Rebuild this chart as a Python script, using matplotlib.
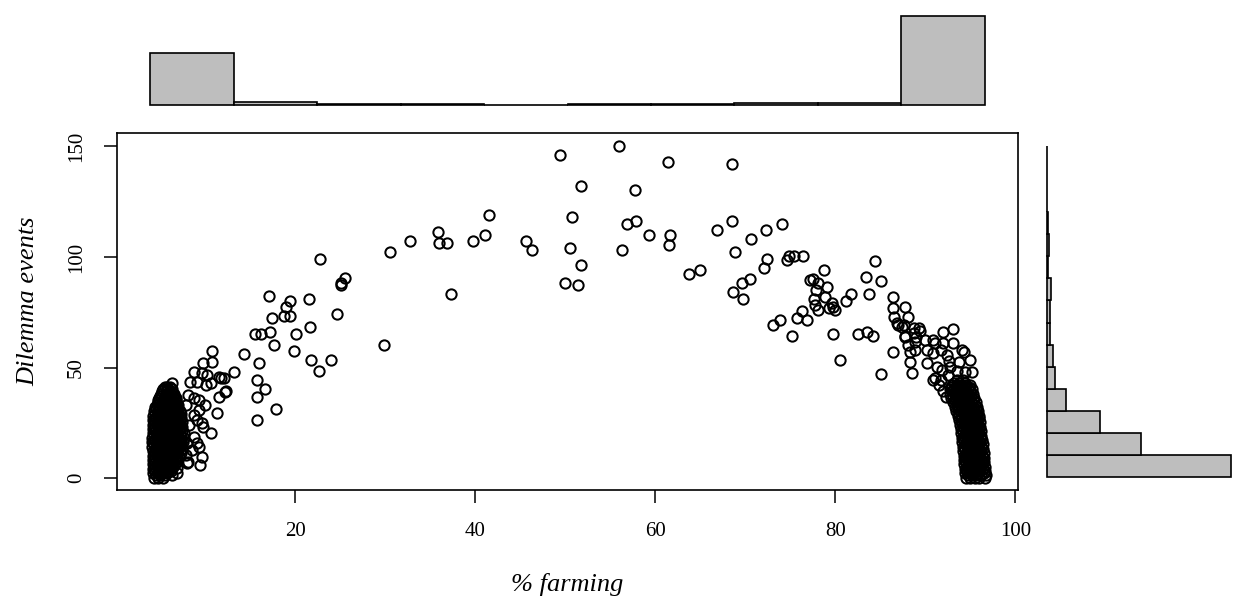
import matplotlib
matplotlib.use("Agg")

import matplotlib.pyplot as plt
import numpy as np

plt.rcParams["font.family"] = ["Liberation Serif", "DejaVu Serif"]

# ---- scattered points ----
rise_x = [35.9, 32.8, 36.0, 36.9, 30.5, 22.7, 25.5, 25.1, 25.1, 37.3, 17.1, 21.5,
          19.4, 19.0, 18.7, 19.4, 17.4, 24.6, 21.6, 15.5, 16.2, 17.2, 20.1, 17.6,
          29.9, 19.9, 14.3, 16.0, 21.7, 24.0, 22.6, 15.7, 16.6, 15.8, 15.7, 17.9]
rise_y = [111.3, 107.4, 106.2, 106.2, 102.1, 99.2, 90.4, 88.4, 87.3, 83.3, 82.4, 81.1,
          80.1, 77.2, 73.3, 73.3, 72.3, 74.3, 68.2, 65.3, 65.3, 66.2, 65.2, 60.2,
          60.2, 57.3, 56.2, 52.2, 53.4, 53.4, 48.3, 44.3, 40.3, 36.8, 26.2, 31.2]

fringe_x = [10.7, 10.8, 9.8, 13.2, 8.7, 9.6, 10.2, 11.5, 12.1, 8.3, 9.1, 10.6,
            10.1, 12.2, 11.5, 6.3, 5.7, 8.1, 8.7, 9.3, 10.0, 11.3, 9.3, 8.7,
            9.1, 9.6, 9.8, 10.6, 8.7, 9.1, 9.3, 8.5, 9.6, 9.4, 8.1, 6.9,
            8.0, 12.3, 11.7, 7.9, 8.2, 8.0, 7.9, 6.9, 6.3]
fringe_y = [57.6, 52.6, 51.9, 48.1, 48.1, 47.4, 46.6, 45.8, 45.1, 43.6, 43.6, 42.8,
            42.1, 39.0, 36.8, 42.8, 41.3, 37.6, 36.1, 35.3, 33.0, 29.6, 30.8, 28.5,
            26.2, 24.7, 23.2, 20.2, 18.7, 15.7, 14.2, 12.7, 9.6, 5.9, 7.4, 2.1,
            6.6, 39.5, 45.1, 33.0, 24.0, 16.0, 10.5, 4.5, 1.2]

peak_x = [49.4, 56.0, 61.4, 68.5, 51.7, 57.7, 41.5, 50.8, 56.9, 57.9, 59.3, 61.6,
          61.5, 66.9, 39.7, 41.1, 45.6, 46.3, 50.5, 56.3, 51.7, 50.0, 51.4, 63.7, 65.0]
peak_y = [146.2, 150.2, 143.1, 142.3, 132.1, 130.2, 119.1, 118.2, 115.1, 116.1, 110.1, 110.1,
          105.3, 112.2, 107.2, 110.1, 107.4, 103.2, 104.1, 103.2, 96.2, 88.1, 87.2, 92.2, 94.1]

fall_x = [68.5, 72.3, 74.1, 70.6, 68.9, 72.4, 72.1, 74.6, 74.9, 75.4, 76.4, 70.5,
          69.6, 68.6, 69.7, 77.2, 77.5, 78.7, 78.1, 79.1, 77.9, 77.6, 77.8, 78.1,
          78.9, 79.6, 80.0, 79.3, 79.8, 81.2, 81.7, 76.3, 75.7, 76.9, 73.9, 73.1,
          75.2, 79.7, 80.5, 84.4, 83.4, 85.1, 83.7, 82.5, 83.5, 84.2, 85.1]
fall_y = [116.4, 112.2, 114.9, 108.1, 102.1, 99.1, 95.2, 98.6, 100.5, 100.5, 100.5, 90.2,
          88.1, 84.3, 81.1, 89.6, 90.2, 94.1, 88.1, 86.6, 85.1, 81.0, 78.3, 76.0,
          82.0, 79.0, 76.0, 76.8, 77.2, 80.2, 83.3, 75.4, 72.3, 71.5, 71.5, 69.2,
          64.1, 65.2, 53.3, 98.1, 91.1, 89.1, 83.3, 65.2, 66.2, 64.1, 47.1]

shoulder_x = [86.4, 86.4, 86.5, 86.9, 87.4, 87.8, 88.1, 86.4, 87.7, 88.7, 89.3, 89.4,
              88.7, 89.0, 88.1, 88.9, 88.3, 88.9, 88.3, 88.5, 87.6, 90.2, 90.2, 90.0,
              90.9, 91.1, 92.0, 93.1, 92.0, 93.1, 94.1, 90.9, 91.7, 92.4, 91.1, 90.9,
              91.9, 92.8, 91.3, 95.0, 94.3, 94.4, 95.2, 91.5, 92.0, 92.3, 91.8, 92.5,
              93.5, 93.8, 92.6, 87.8, 87.0]
shoulder_y = [82.0, 77.1, 73.0, 70.0, 68.5, 77.2, 73.0, 57.2, 64.3, 67.7, 67.7, 66.7,
              65.5, 63.9, 60.2, 61.7, 57.2, 57.9, 52.6, 47.4, 69.2, 57.9, 51.9, 62.4,
              62.4, 60.9, 66.2, 67.3, 60.9, 60.9, 57.9, 56.4, 57.9, 55.7, 45.1, 44.3,
              48.9, 50.4, 50.4, 53.4, 57.2, 48.1, 48.1, 42.0, 39.5, 36.5, 44.5, 46.5,
              48.5, 52.5, 53.0, 63.9, 69.2]

# dense clusters: y level of each row and the x values on that row
left_rows_y = [0.2, 1.2, 2.2, 3.2, 4.2, 5.2, 6.2, 7.2, 8.2, 9.2, 10.2, 11.2, 12.2,
               13.2, 14.2, 15.2, 16.2, 17.2, 18.2, 19.2, 20.2, 21.2, 22.2, 23.2,
               24.2, 25.2, 26.2, 27.2, 28.2, 29.2, 30.2, 31.2, 32.2, 33.2, 34.2,
               35.2, 36.2, 37.2, 38.2, 39.2, 40.2, 41.2]
left_rows_x = [
    [4.3, 4.8, 5.3],
    [4.5, 5.0, 5.5],
    [4.2, 4.7, 5.2, 5.7],
    [4.4, 4.9, 5.4, 5.9, 6.2],
    [4.2, 4.7, 5.2, 5.7, 6.2],
    [4.4, 4.9, 5.4, 5.9, 6.4],
    [4.2, 4.7, 5.2, 5.7, 6.2, 6.6],
    [4.4, 4.9, 5.4, 5.9, 6.4, 6.8],
    [4.2, 4.7, 5.2, 5.7, 6.2, 6.7],
    [4.4, 4.9, 5.4, 5.9, 6.4, 6.9],
    [4.2, 4.7, 5.2, 5.7, 6.2, 6.7, 7.1],
    [4.4, 4.9, 5.4, 5.9, 6.4, 6.9, 7.3],
    [4.2, 4.7, 5.2, 5.7, 6.2, 6.7, 7.2],
    [4.4, 4.9, 5.4, 5.9, 6.4, 6.9, 7.4],
    [4.1, 4.6, 5.1, 5.6, 6.1, 6.6, 7.1],
    [4.3, 4.8, 5.3, 5.8, 6.3, 6.8, 7.3],
    [4.1, 4.6, 5.1, 5.6, 6.1, 6.6, 7.1, 7.5],
    [4.3, 4.8, 5.3, 5.8, 6.3, 6.8, 7.3],
    [4.1, 4.6, 5.1, 5.6, 6.1, 6.6, 7.1, 7.6],
    [4.3, 4.8, 5.3, 5.8, 6.3, 6.8, 7.3],
    [4.2, 4.7, 5.2, 5.7, 6.2, 6.7, 7.2, 7.6],
    [4.4, 4.9, 5.4, 5.9, 6.4, 6.9, 7.4],
    [4.2, 4.7, 5.2, 5.7, 6.2, 6.7, 7.2],
    [4.4, 4.9, 5.4, 5.9, 6.4, 6.9, 7.4],
    [4.2, 4.7, 5.2, 5.7, 6.2, 6.7, 7.2],
    [4.4, 4.9, 5.4, 5.9, 6.4, 6.9, 7.4],
    [4.2, 4.7, 5.2, 5.7, 6.2, 6.7, 7.2],
    [4.4, 4.9, 5.4, 5.9, 6.4, 6.9, 7.3],
    [4.2, 4.7, 5.2, 5.7, 6.2, 6.7, 7.2],
    [4.4, 4.9, 5.4, 5.9, 6.4, 6.9, 7.3],
    [4.3, 4.8, 5.3, 5.8, 6.3, 6.8, 7.2],
    [4.5, 5.0, 5.5, 6.0, 6.5, 7.0],
    [4.4, 4.9, 5.4, 5.9, 6.4, 6.9],
    [4.6, 5.1, 5.6, 6.1, 6.6, 7.0],
    [4.7, 5.2, 5.7, 6.2, 6.7],
    [4.8, 5.3, 5.8, 6.3, 6.8],
    [4.9, 5.4, 5.9, 6.4, 6.7],
    [5.0, 5.5, 6.0, 6.5],
    [5.1, 5.6, 6.1, 6.5],
    [5.2, 5.7, 6.2],
    [5.3, 5.8, 6.3],
    [5.5, 6.1],
]

right_rows_y = [0.2, 1.2, 2.2, 3.2, 4.2, 5.2, 6.2, 7.2, 8.2, 9.2, 10.2, 11.2, 12.2,
                13.2, 14.2, 15.2, 16.2, 17.2, 18.2, 19.2, 20.2, 21.2, 22.2, 23.2,
                24.2, 25.2, 26.2, 27.2, 28.2, 29.2, 30.2, 31.2, 32.2, 33.2, 34.2,
                35.2, 36.2, 37.2, 38.2, 39.2, 40.2, 41.2, 42.2, 43.2, 44.2]
right_rows_x = [
    [94.5, 95.0, 95.5, 96.0, 96.6],
    [94.7, 95.2, 95.7, 96.2, 96.7],
    [94.4, 94.9, 95.4, 95.9, 96.5],
    [94.6, 95.1, 95.6, 96.1, 96.6],
    [94.4, 94.9, 95.4, 95.9, 96.4],
    [94.6, 95.1, 95.6, 96.1, 96.6],
    [94.3, 94.8, 95.3, 95.8, 96.3],
    [94.5, 95.0, 95.5, 96.0, 96.5],
    [94.3, 94.8, 95.3, 95.8, 96.3],
    [94.5, 95.0, 95.5, 96.0, 96.5],
    [94.3, 94.8, 95.3, 95.8, 96.3],
    [94.5, 95.0, 95.5, 96.0, 96.5],
    [94.2, 94.7, 95.2, 95.7, 96.2],
    [94.4, 94.9, 95.4, 95.9, 96.4],
    [94.2, 94.7, 95.2, 95.7, 96.2],
    [94.4, 94.9, 95.4, 95.9, 96.4],
    [94.1, 94.6, 95.1, 95.6, 96.1],
    [94.3, 94.8, 95.3, 95.8, 96.3],
    [94.1, 94.6, 95.1, 95.6, 96.1],
    [94.3, 94.8, 95.3, 95.8, 96.2],
    [94.0, 94.5, 95.0, 95.5, 96.0],
    [94.2, 94.7, 95.2, 95.7, 96.2],
    [94.0, 94.5, 95.0, 95.5, 96.0],
    [94.2, 94.7, 95.2, 95.7, 96.1],
    [93.9, 94.4, 94.9, 95.4, 95.9],
    [94.1, 94.6, 95.1, 95.6, 96.1],
    [93.8, 94.3, 94.8, 95.3, 95.8],
    [94.0, 94.5, 95.0, 95.5, 96.0],
    [93.6, 94.1, 94.6, 95.1, 95.6, 96.0],
    [93.8, 94.3, 94.8, 95.3, 95.8],
    [93.4, 93.9, 94.4, 94.9, 95.4, 95.9],
    [93.6, 94.1, 94.6, 95.1, 95.6],
    [93.3, 93.8, 94.3, 94.8, 95.3, 95.8],
    [93.5, 94.0, 94.5, 95.0, 95.5],
    [93.1, 93.6, 94.1, 94.6, 95.1, 95.6],
    [93.3, 93.8, 94.3, 94.8, 95.3],
    [92.9, 93.4, 93.9, 94.4, 94.9, 95.4],
    [93.1, 93.6, 94.1, 94.6, 95.1],
    [92.8, 93.3, 93.8, 94.3, 94.8, 95.3],
    [93.0, 93.5, 94.0, 94.5, 95.0],
    [92.7, 93.2, 93.7, 94.2, 94.7, 95.2],
    [92.9, 93.4, 93.9, 94.4, 94.9],
    [93.0, 93.5, 94.0, 94.5, 95.0],
    [93.2, 93.8, 94.4],
    [93.5, 94.2],
]

# marginal histogram counts (bar lengths)
top_counts = [736, 38, 10, 8, 7, 12, 11, 30, 32, 1260]
side_counts = [1000, 511, 288, 105, 45, 33, 18, 18, 23, 9, 12, 9, 4, 2, 4]

x_ticks = [20, 40, 60, 80, 100]
y_ticks = [0, 50, 100, 150]

W, H = 1233, 603
GREY = "#BEBEBE"


def px_axes(fig, left, top, right, bottom):
    # axes placed from pixel edges
    return fig.add_axes([left / W, 1 - bottom / H, (right - left) / W, (bottom - top) / H])


def flatten_rows(rows_y, rows_x):
    xs, ys = [], []
    for y, row in zip(rows_y, rows_x):
        xs.extend(row)
        ys.extend([y] * len(row))
    return xs, ys


fig = plt.figure(figsize=(W / 100, H / 100), dpi=100)

# main scatter
ax = px_axes(fig, 117, 133, 1018, 490)
left_x, left_y = flatten_rows(left_rows_y, left_rows_x)
right_x, right_y = flatten_rows(right_rows_y, right_rows_x)

all_x = rise_x + fringe_x + peak_x + fall_x + shoulder_x + left_x + right_x
all_y = rise_y + fringe_y + peak_y + fall_y + shoulder_y + left_y + right_y
ax.plot(all_x, all_y, "o", ms=7.4, mfc="none", mec="black", mew=1.45, ls="none")

ax.set_xlim(0.2, 100.3)
ax.set_ylim(-5.4, 156.1)
ax.set_xticks(x_ticks)
ax.set_yticks(y_ticks)
ax.tick_params(axis="both", direction="out", length=9.4, width=1.1, labelsize=15)
ax.tick_params(axis="x", pad=14)
ax.tick_params(axis="y", pad=13, labelrotation=90)
for lab in ax.get_yticklabels():
    lab.set_va("center")
for sp in ax.spines.values():
    sp.set_linewidth(1.2)

fig.text(567 / W, 1 - 585 / H, "% farming", ha="center", va="center",
         fontsize=19, style="italic")
fig.text(28 / W, 1 - 301 / H, "Dilemma events", ha="center", va="center",
         fontsize=19, style="italic", rotation=90)

# top histogram (barplot style, bars at 0..10)
M = max(top_counts)
bar_px = 89.0
axt = px_axes(fig, 117, 105 - 1.04 * bar_px, 1018, 105 + 0.04 * bar_px)
axt.bar(np.arange(len(top_counts)), top_counts, width=1, align="edge",
        color=GREY, edgecolor="black", linewidth=1.2)
axt.set_xlim(-0.4, len(top_counts) + 0.4)
axt.set_ylim(-0.04 * M, 1.04 * M)
axt.axis("off")

# right histogram (horizontal)
S = max(side_counts)
side_px = 184.0
base = 1046.7
axr = px_axes(fig, base - 0.04 * side_px, 133, base + 1.04 * side_px, 490)
axr.barh(np.arange(len(side_counts)), side_counts, height=1, align="edge",
         color=GREY, edgecolor="black", linewidth=1.2)
axr.set_ylim(-0.6, len(side_counts) + 0.6)
axr.set_xlim(-0.04 * S, 1.04 * S)
axr.axis("off")

fig.savefig("out.png", dpi=100)
plt.close(fig)
